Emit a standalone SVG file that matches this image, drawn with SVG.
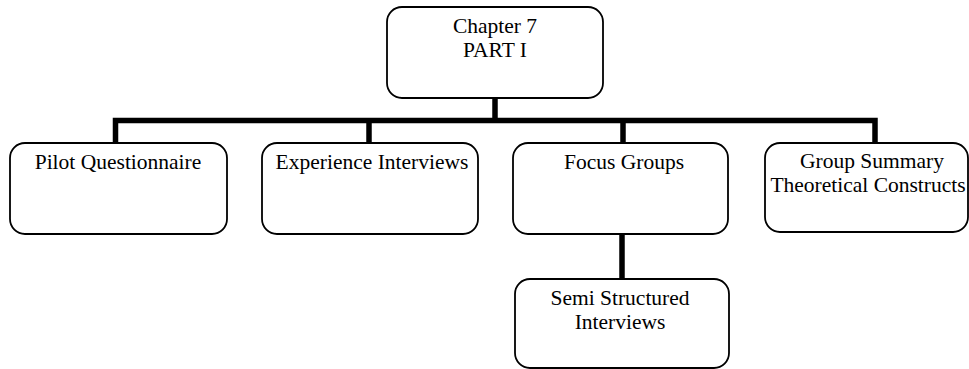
<svg xmlns="http://www.w3.org/2000/svg" width="969" height="369" viewBox="0 0 969 369">
  <style>
    .box { fill: #ffffff; stroke: #000000; stroke-width: 1.8; }
    .lbl { font-family: "Liberation Serif", "Times New Roman", serif; font-size: 21.5px; fill: #000000; text-anchor: middle; }
    .wire { fill: none; stroke: #000000; stroke-width: 5.5; stroke-linecap: butt; stroke-linejoin: miter; }
  </style>

  <!-- connectors -->
  <g id="connectors">
    <path class="wire" d="M495,98 V120.5"/>
    <path class="wire" d="M115.5,143 V120.5 H875 V143"/>
    <path class="wire" d="M369,120.5 V143"/>
    <path class="wire" d="M623,120.5 V143"/>
    <path class="wire" d="M622,234 V279"/>
  </g>

  <g id="chapter7">
    <rect class="box" x="387" y="7" width="216" height="91" rx="15" ry="15"/>
    <text class="lbl" x="495" y="33">Chapter 7</text>
    <text class="lbl" x="495" y="57">PART I</text>
  </g>

  <g id="pilot-questionnaire">
    <rect class="box" x="10" y="143" width="217" height="91" rx="15" ry="15"/>
    <text class="lbl" x="118" y="169">Pilot Questionnaire</text>
  </g>

  <g id="experience-interviews">
    <rect class="box" x="262" y="143" width="216" height="91" rx="15" ry="15"/>
    <text class="lbl" x="372" y="169">Experience Interviews</text>
  </g>

  <g id="focus-groups">
    <rect class="box" x="513" y="143" width="215" height="91" rx="15" ry="15"/>
    <text class="lbl" x="624" y="169">Focus Groups</text>
  </g>

  <g id="group-summary">
    <rect class="box" x="765" y="143" width="203" height="89" rx="15" ry="15"/>
    <text class="lbl" x="872" y="168">Group Summary</text>
    <text class="lbl" x="868" y="192">Theoretical Constructs</text>
  </g>

  <g id="semi-structured-interviews">
    <rect class="box" x="515" y="279" width="214" height="89" rx="15" ry="15"/>
    <text class="lbl" x="620" y="305">Semi Structured</text>
    <text class="lbl" x="620" y="329">Interviews</text>
  </g>
</svg>
